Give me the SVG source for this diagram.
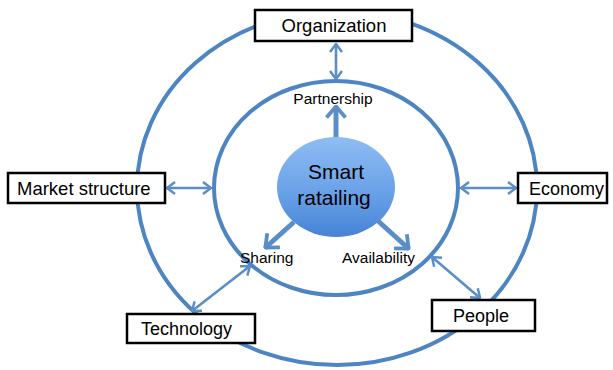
<svg xmlns="http://www.w3.org/2000/svg" width="613" height="370" viewBox="0 0 613 370">
  <style>
    .ring { fill: none; stroke: #4d84c2; stroke-width: 4; }
    .thin { fill: none; stroke: #5b8dc6; stroke-width: 2.6; }
    .thick { fill: none; stroke: #5b8dc6; stroke-width: 5; }
    .box { fill: #ffffff; stroke: #000000; stroke-width: 2.5; }
    .lbl { font-family: "Liberation Sans", Arial, sans-serif; font-size: 18px; fill: #000000; }
    .small { font-family: "Liberation Sans", Arial, sans-serif; font-size: 15.5px; fill: #000000; }
    .core { font-family: "Liberation Sans", Arial, sans-serif; font-size: 21px; fill: #000000; text-anchor: middle; }
  </style>
  <defs>
    <marker id="hThin" viewBox="0 0 10 14" refX="9" refY="7" markerWidth="10" markerHeight="14" markerUnits="userSpaceOnUse" orient="auto-start-reverse">
      <path d="M1,1 L9,7 L1,13" fill="none" stroke="#5b8dc6" stroke-width="2.5"/>
    </marker>
    <marker id="hThick" viewBox="0 0 14 22" refX="13" refY="11" markerWidth="14" markerHeight="22" markerUnits="userSpaceOnUse" orient="auto">
      <path d="M1.5,1.5 L12.5,11 L1.5,20.5" fill="none" stroke="#5b8dc6" stroke-width="3.8"/>
    </marker>
    <linearGradient id="coreGrad" x1="0" y1="0" x2="0" y2="1">
      <stop offset="0" stop-color="#8fbcf3"/>
      <stop offset="0.55" stop-color="#6aa2e8"/>
      <stop offset="1" stop-color="#4683d6"/>
    </linearGradient>
  </defs>

  <g id="rings">
    <ellipse class="ring" cx="337" cy="188" rx="200" ry="177"/>
    <ellipse class="ring" cx="336" cy="188" rx="122" ry="107"/>
  </g>

  <g id="connectors">
    <line class="thin" x1="336" y1="44" x2="336" y2="79" marker-start="url(#hThin)" marker-end="url(#hThin)"/>
    <line class="thin" x1="167" y1="188" x2="211" y2="188" marker-start="url(#hThin)" marker-end="url(#hThin)"/>
    <line class="thin" x1="461" y1="188" x2="516" y2="188" marker-start="url(#hThin)" marker-end="url(#hThin)"/>
    <line class="thin" x1="192" y1="311" x2="250" y2="266" marker-start="url(#hThin)" marker-end="url(#hThin)"/>
    <line class="thin" x1="432" y1="257" x2="480" y2="298" marker-start="url(#hThin)" marker-end="url(#hThin)"/>
    <line class="thick" x1="336" y1="138" x2="336" y2="106" marker-end="url(#hThick)"/>
    <line class="thick" x1="294" y1="222" x2="265" y2="248" marker-end="url(#hThick)"/>
    <line class="thick" x1="377" y1="220" x2="409" y2="249" marker-end="url(#hThick)"/>
  </g>

  <g id="smart-retailing">
    <ellipse cx="336" cy="187" rx="59" ry="50" fill="url(#coreGrad)"/>
    <text class="core" x="336" y="179">Smart</text>
    <text class="core" x="334" y="205">ratailing</text>
  </g>

  <g id="organization">
    <rect class="box" x="255" y="10" width="157" height="31"/>
    <text class="lbl" x="334" y="32" text-anchor="middle" style="font-size:18.5px">Organization</text>
  </g>

  <g id="market-structure">
    <rect class="box" x="8" y="173" width="157" height="30"/>
    <text class="lbl" x="17" y="195" style="font-size:18.5px">Market structure</text>
  </g>

  <g id="economy">
    <rect class="box" x="518" y="173" width="89" height="30"/>
    <text class="lbl" x="529" y="195">Economy</text>
  </g>

  <g id="technology">
    <rect class="box" x="127" y="314" width="128" height="29"/>
    <text class="lbl" x="141" y="335">Technology</text>
  </g>

  <g id="people">
    <rect class="box" x="432" y="300" width="103" height="31"/>
    <text class="lbl" x="453" y="322">People</text>
  </g>

  <g id="partnership">
    <text class="small" x="333" y="104" text-anchor="middle">Partnership</text>
  </g>

  <g id="sharing">
    <text class="small" x="240" y="263">Sharing</text>
  </g>

  <g id="availability">
    <text class="small" x="342" y="263">Availability</text>
  </g>
</svg>
